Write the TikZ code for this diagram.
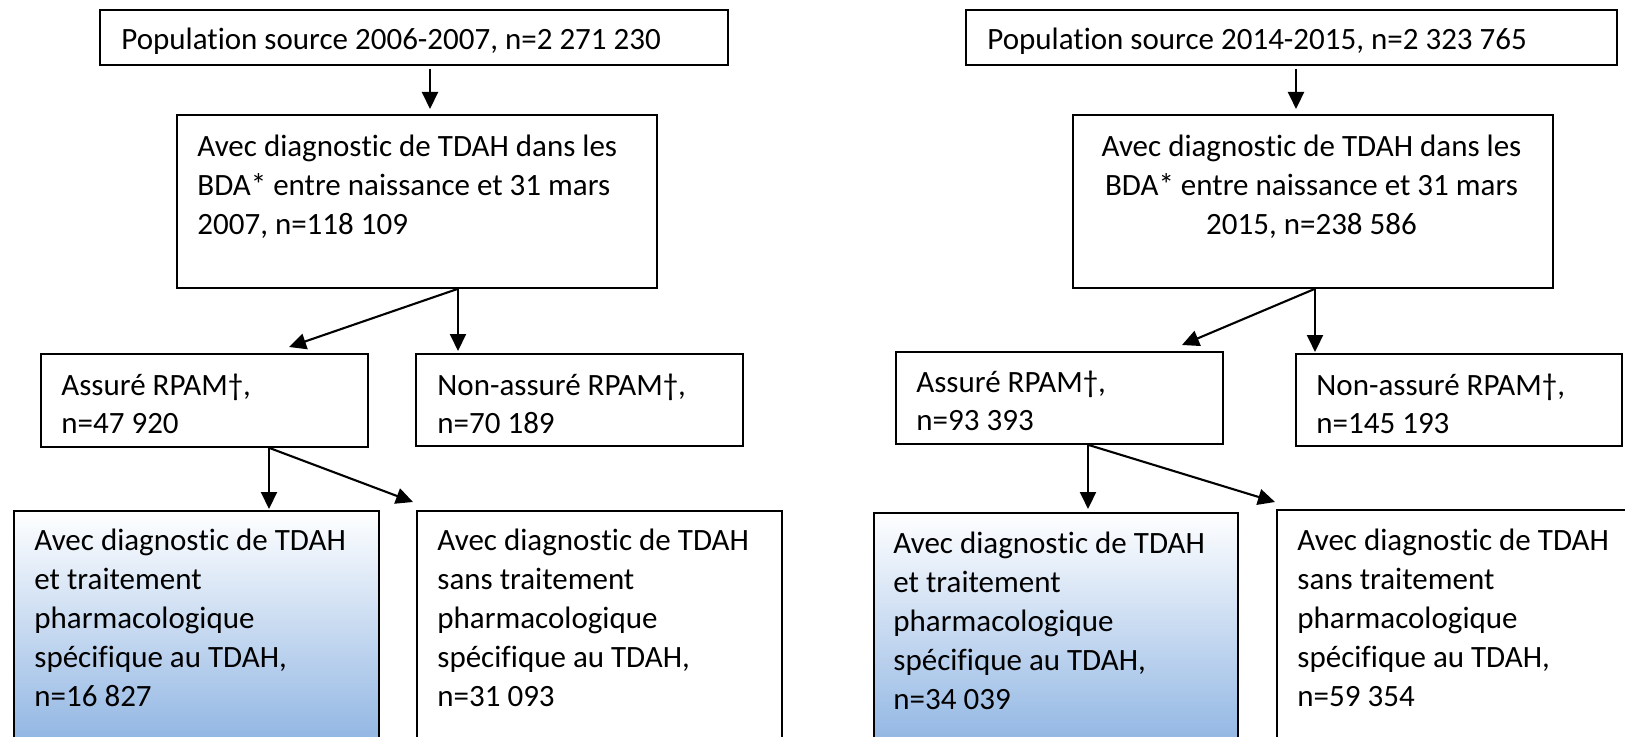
\documentclass[tikz,border=0pt]{standalone}
\usepackage{fontspec}
\setmainfont{Carlito}[Ligatures={NoCommon,NoRare,NoContextual,NoRequired},Contextuals={NoAlternate}]
\usetikzlibrary{arrows.meta,calc}
\definecolor{gradblue}{RGB}{141,179,226}
\newcommand\mydiag{diagnos\kern0pt tic}
\begin{document}
\begin{tikzpicture}[x=0.5pt,y=-0.5pt,
  box/.style={draw, line width=0.9pt, inner sep=0pt, anchor=north west},
  txt/.style={inner sep=0pt, font=\fontsize{15.5pt}{19.3pt}\selectfont},
  txtE/.style={inner sep=0pt, font=\fontsize{15.5pt}{19.6pt}\selectfont},
  arr/.style={-{Triangle[length=8.5pt,width=8pt]}, line width=1.05pt}]
\useasboundingbox (0,0) rectangle (1625,737);
\clip (0,0) rectangle (1625,737);
% ---------- left flow ----------
\node[box, minimum width=314pt, minimum height=27.5pt] (a1) at (99,9) {};
\node[box, minimum width=240pt, minimum height=86.5pt] (b1) at (176,114) {};
\node[box, minimum width=163.5pt, minimum height=46.5pt] (c1) at (40,353) {};
\node[box, minimum width=163.5pt, minimum height=46pt] (d1) at (415,353) {};
\node[box, minimum width=182.5pt, minimum height=120pt, top color=white, bottom color=gradblue] (e1) at (13,510) {};
\node[box, minimum width=182.5pt, minimum height=120pt] (f1) at (416,510) {};
% ---------- right flow ----------
\node[box, minimum width=325.5pt, minimum height=27.5pt] (a2) at (965,9) {};
\node[box, minimum width=240pt, minimum height=86.5pt] (b2) at (1072,114) {};
\node[box, minimum width=163.5pt, minimum height=46pt] (c2) at (895,351) {};
\node[box, minimum width=163pt, minimum height=46pt] (d2) at (1295,353) {};
\node[box, minimum width=182pt, minimum height=120pt, top color=white, bottom color=gradblue] (e2) at (873,512) {};
\node[box, minimum width=202pt, minimum height=120pt] (f2) at (1276,509) {};
% ---------- texts ----------
\node[txt, anchor=base west] (ta1) at (121,50) {Population source 2006-2007, n=2 271 230};
\node[txt, anchor=base west] (tb1) at (197,157) {\begin{tabular}[t]{@{}l@{}}Avec \mydiag{} de TDAH dans les\\ BDA* entre naissance et 31 mars\\ 2007, n=118 109\end{tabular}};
\node[txt, anchor=base west] (tc1) at (61,395) {\begin{tabular}[t]{@{}l@{}}Assuré RPAM†,\\ n=47 920\end{tabular}};
\node[txt, anchor=base west] (td1) at (437,395) {\begin{tabular}[t]{@{}l@{}}Non-assuré RPAM†,\\ n=70 189\end{tabular}};
\node[txtE, anchor=base west] (te1) at (34,550) {\begin{tabular}[t]{@{}l@{}}Avec \mydiag{} de TDAH\\ et traitement\\ pharmacologique\\ spécifique au TDAH,\\ n=16 827\end{tabular}};
\node[txtE, anchor=base west] (tf1) at (437,550) {\begin{tabular}[t]{@{}l@{}}Avec \mydiag{} de TDAH\\ sans traitement\\ pharmacologique\\ spécifique au TDAH,\\ n=31 093\end{tabular}};
\node[txt, anchor=base west] (ta2) at (987,50) {Population source 2014-2015, n=2 323 765};
\node[txt, anchor=base] (tb2) at (1311.5,157) {\begin{tabular}[t]{@{}c@{}}Avec \mydiag{} de TDAH dans les\\ BDA* entre naissance et 31 mars\\ 2015, n=238 586\end{tabular}};
\node[txt, anchor=base west] (tc2) at (916,392) {\begin{tabular}[t]{@{}l@{}}Assuré RPAM†,\\ n=93 393\end{tabular}};
\node[txt, anchor=base west] (td2) at (1316,395) {\begin{tabular}[t]{@{}l@{}}Non-assuré RPAM†,\\ n=145 193\end{tabular}};
\node[txtE, anchor=base west] (te2) at (893,553) {\begin{tabular}[t]{@{}l@{}}Avec \mydiag{} de TDAH\\ et traitement\\ pharmacologique\\ spécifique au TDAH,\\ n=34 039\end{tabular}};
\node[txtE, anchor=base west] (tf2) at (1297,550) {\begin{tabular}[t]{@{}l@{}}Avec \mydiag{} de TDAH\\ sans traitement\\ pharmacologique\\ spécifique au TDAH,\\ n=59 354\end{tabular}};
% ---------- arrows ----------
\draw[arr] ($(a1.south west)+(331,3)$) -- ($(b1.north west)+(254,-5)$);
\draw[arr] ($(b1.south west)+(282,0)$) -- ($(c1.north west)+(249,-6)$);
\draw[arr] ($(b1.south west)+(282,0)$) -- ($(d1.north west)+(43,-2)$);
\draw[arr] ($(c1.south west)+(229,0)$) -- ($(e1.north west)+(256,-1)$);
\draw[arr] ($(c1.south west)+(229,0)$) -- ($(f1.north west)+(-3,-8)$);
\draw[arr] ($(a2.south west)+(331,3)$) -- ($(b2.north west)+(224,-5)$);
\draw[arr] ($(b2.south west)+(243,0)$) -- ($(c2.north west)+(287,-6)$);
\draw[arr] ($(b2.south west)+(243,0)$) -- ($(d2.north west)+(20,-1)$);
\draw[arr] ($(c2.south west)+(193,0)$) -- ($(e2.north west)+(215,-3)$);
\draw[arr] ($(c2.south west)+(193,0)$) -- ($(f2.north west)+(-1,-7)$);
\end{tikzpicture}
\end{document}
